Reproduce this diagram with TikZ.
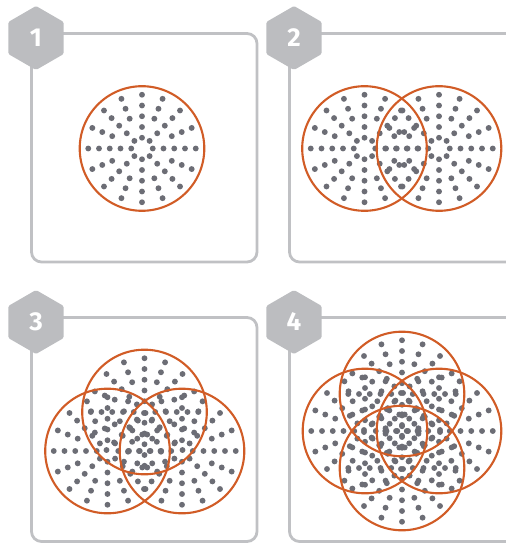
\documentclass[tikz,border=0pt]{standalone}
\usepackage{fontspec}
\setsansfont{Fira Sans}
\definecolor{ringc}{RGB}{209,92,38}
\definecolor{dotc}{RGB}{108,109,117}
\definecolor{framec}{RGB}{192,193,196}
\definecolor{hexc}{RGB}{188,189,192}
\newcommand\dotcloud[2]{%
  \begin{scope}[shift={(#1,#2)}]
    \foreach \k in {0,...,7}{
      \foreach \r in {10.75,21.5,32.25,43,53.75}{
        \fill[dotp] (\k*45:\r) circle[radius=2.95];
      }
      \foreach \r in {32.25,43,53.75}{
        \fill[dotp] (\k*45+22.5:\r) circle[radius=2.95];
      }
    }
  \end{scope}}
\newcommand\ringat[2]{\draw[ring] (#1,#2) circle[radius=62.3];}
\newcommand\badge[4]{% x, y, name, text
  \fill[hexbadge, shift={(#1,#2)}] (90:32) -- (150:32) -- (210:32) -- (270:32) -- (330:32) -- (30:32) -- cycle;
  \node[numlabel] (#3) at (#1,#2) {#4};}
\tikzset{
  panel/.style={draw=framec, line width=2.8bp, rounded corners=10bp},
  ring/.style={draw=ringc, line width=2.1bp},
  dotp/.style={fill=dotc},
  hexbadge/.style={fill=hexc, rounded corners=1.5bp},
  numlabel/.style={text=white, font=\sffamily\bfseries\fontsize{26}{26}\selectfont, inner sep=0pt}
}
\begin{document}
\begin{tikzpicture}[x=1bp,y=-1bp]
\useasboundingbox (0,0) rectangle (506,543);
\clip (0,0) rectangle (506,543);
% panels
\draw[panel] (31.5,33.5) rectangle (257,262);
\draw[panel] (289.5,33.5) rectangle (540,262);
\draw[panel] (31.5,317.5) rectangle (257,541.5);
\draw[panel] (289.5,317.5) rectangle (540,541.5);
% panel 1
\dotcloud{142}{148.5}
\ringat{142}{148.5}
% panel 2
\dotcloud{364.5}{148.5}
\dotcloud{439}{148.5}
\ringat{364.5}{148.5}
\ringat{439}{148.5}
% panel 3
\dotcloud{144.5}{412}
\dotcloud{107.5}{451}
\dotcloud{182}{451}
\ringat{144.5}{412}
\ringat{107.5}{451}
\ringat{182}{451}
% panel 4
\dotcloud{402}{394}
\dotcloud{365}{431}
\dotcloud{439}{431}
\dotcloud{402}{468}
\ringat{402}{394}
\ringat{365}{431}
\ringat{439}{431}
\ringat{402}{468}
% badges
\badge{36}{38}{n1}{1}
\badge{294}{38}{n2}{2}
\badge{36}{322}{n3}{3}
\badge{294}{322}{n4}{4}
\end{tikzpicture}
\end{document}
